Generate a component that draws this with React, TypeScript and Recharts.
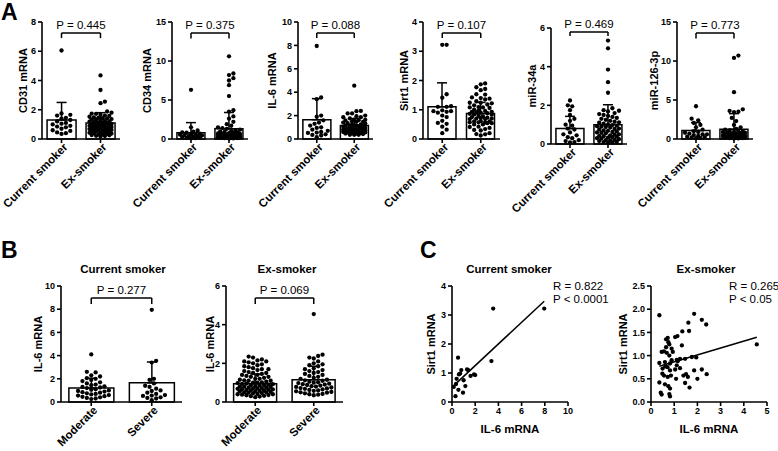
import React from 'react';
import { ComposedChart, Bar, ErrorBar, Scatter, XAxis, YAxis, ReferenceLine } from 'recharts';

const FONT = '"Liberation Sans", Arial, sans-serif';

const smokerGroups = ['Current smoker', 'Ex-smoker'];
const severityGroups = ['Moderate', 'Severe'];

// panel C pairs: [IL-6 mRNA, Sirt1 mRNA]; the IL-6 / Sirt1 columns in A come from the same patients
const currentPairs: [number, number][] = [
  [0.15, 0.52], [0.3, 0.2], [0.4, 0.8], [0.55, 0.42], [0.52, 1.53], [0.7, 0.98], [0.8, 1.1],
  [0.95, 0.32], [1.0, 0.75], [1.15, 0.55], [1.3, 1.12], [1.4, 1.1], [1.6, 0.9], [1.9, 0.95],
  [2.0, 0.93], [3.4, 1.41], [3.55, 3.22], [7.95, 3.22], [0.35, 0.62], [0.6, 0.95],
];
const exPairs: [number, number][] = [
  [0.36, 1.87], [1.86, 1.9], [1.61, 1.71], [2.19, 1.77], [2.38, 1.67], [1.64, 1.53], [1.35, 1.52],
  [1.14, 1.42], [1.04, 1.4], [0.72, 1.38], [0.65, 1.35], [0.75, 1.29], [0.79, 1.24], [1.33, 1.22],
  [0.46, 1.08], [0.56, 1.09], [0.68, 1.06], [0.94, 1.08], [0.79, 1.0], [1.11, 0.91], [1.25, 0.93],
  [1.47, 0.93], [1.76, 0.97], [1.95, 0.96], [0.36, 0.84], [0.6, 0.86], [0.82, 0.83], [0.89, 0.9],
  [1.15, 0.88], [0.5, 0.72], [0.62, 0.77], [0.71, 0.75], [0.82, 0.68], [1.04, 0.7], [1.86, 0.68],
  [2.19, 0.7], [0.49, 0.61], [0.56, 0.57], [0.72, 0.54], [0.86, 0.57], [1.08, 0.5], [1.4, 0.57],
  [1.51, 0.6], [1.59, 0.54], [2.0, 0.5], [2.4, 0.6], [0.36, 0.42], [0.6, 0.38], [0.75, 0.34],
  [0.82, 0.29], [1.47, 0.41], [1.66, 0.31], [0.42, 0.2], [0.46, 0.16], [0.79, 0.17], [0.82, 0.12],
  [4.56, 1.24], [0.89, 1.15], [0.65, 1.18], [1.11, 0.79], [1.25, 0.73],
];

const il6Current = currentPairs.map((p) => p[0]);
const il6Ex = exPairs.map((p) => p[0]);
const sirt1Current = currentPairs.map((p) => p[1]);
const sirt1Ex = exPairs.map((p) => p[1]);

const cd31Current = [6.05, 1.75, 1.65, 1.6, 1.45, 1.4, 1.3, 1.2, 1.1, 1.05, 1.0, 0.9, 0.85, 0.8, 0.7, 0.6, 0.55, 0.45, 0.4, 0.35];
const cd31Ex = [
  4.35, 3.35, 2.55, 2.45, 1.88, 1.8, 1.74, 1.72, 1.66, 1.6, 1.58, 1.52, 1.47, 1.45, 1.4, 1.36, 1.33,
  1.3, 1.27, 1.22, 1.2, 1.18, 1.12, 1.1, 1.07, 1.03, 1.0, 0.98, 0.95, 0.92, 0.9, 0.88, 0.85, 0.82,
  0.8, 0.77, 0.75, 0.72, 0.7, 0.68, 0.65, 0.62, 0.6, 0.58, 0.55, 0.52, 0.5, 0.48, 0.45, 0.42, 0.4,
  0.37, 0.35, 0.32, 0.3, 0.27, 0.25, 0.22, 0.2, 0.17, 1.15, 0.96, 0.78, 0.63, 1.42, 0.87,
];
const cd34Current = [6.3, 1.5, 1.1, 0.95, 0.85, 0.8, 0.7, 0.65, 0.6, 0.55, 0.5, 0.45, 0.4, 0.35, 0.3, 0.25, 0.2, 0.15, 0.1, 0.08];
const cd34Ex = [
  10.6, 8.4, 8.2, 7.8, 7.5, 6.9, 5.5, 3.7, 3.5, 2.9, 2.6, 2.2, 1.9, 1.7, 1.5, 1.4, 1.3, 1.2, 1.1, 1.0,
  0.95, 0.9, 0.85, 0.8, 0.75, 0.7, 0.65, 0.6, 0.55, 0.5, 0.48, 0.45, 0.42, 0.4, 0.38, 0.35, 0.32, 0.3,
  0.28, 0.25, 0.22, 0.2, 0.18, 0.15, 0.12, 0.1, 0.08, 0.05, 0.62, 0.44, 0.33, 0.27, 0.19, 0.14, 0.36,
  0.52, 0.71, 0.24,
];
const mir34aCurrent = [2.25, 2.0, 1.95, 1.75, 1.5, 1.3, 1.2, 1.0, 0.95, 0.8, 0.75, 0.6, 0.5, 0.45, 0.35, 0.3, 0.2, 0.15, 0.1, 0.08];
const mir34aEx = [
  5.35, 4.95, 3.85, 3.2, 2.65, 1.85, 1.75, 1.72, 1.68, 1.6, 1.55, 1.5, 1.45, 1.4, 1.35, 1.3, 1.25,
  1.2, 1.15, 1.1, 1.05, 1.0, 0.98, 0.95, 0.9, 0.88, 0.85, 0.8, 0.78, 0.75, 0.7, 0.68, 0.65, 0.6, 0.58,
  0.55, 0.5, 0.48, 0.45, 0.4, 0.38, 0.35, 0.3, 0.28, 0.25, 0.2, 0.18, 0.15, 0.12, 0.1, 0.08, 0.05,
  0.62, 0.42, 0.22, 0.92, 1.12, 0.33,
];
const mir126Current = [4.2, 2.6, 2.4, 2.05, 1.8, 1.5, 1.2, 1.0, 0.9, 0.8, 0.7, 0.6, 0.5, 0.4, 0.3, 0.25, 0.2, 0.15, 0.1, 0.6];
const mir126Ex = [
  10.7, 10.4, 6.0, 3.8, 3.6, 3.5, 3.45, 2.7, 2.3, 1.8, 1.5, 1.3, 1.2, 1.1, 1.0, 0.95, 0.9, 0.85, 0.8,
  0.75, 0.7, 0.65, 0.6, 0.55, 0.5, 0.48, 0.45, 0.42, 0.4, 0.38, 0.35, 0.32, 0.3, 0.28, 0.25, 0.22,
  0.2, 0.18, 0.15, 0.12, 0.1, 0.08, 0.05, 0.6, 0.44, 0.33, 0.27, 0.9, 0.72, 0.52,
];
const il6Moderate = [
  4.1, 2.6, 2.55, 2.3, 2.2, 2.05, 2.0, 1.9, 1.8, 1.7, 1.6, 1.5, 1.45, 1.35, 1.3, 1.25, 1.2, 1.1,
  1.05, 1.0, 0.95, 0.9, 0.85, 0.8, 0.75, 0.7, 0.65, 0.6, 0.55, 0.5, 0.45, 0.4, 0.35, 0.3, 0.25,
];
const il6ExModerate = [
  2.35, 2.3, 2.2, 2.15, 2.1, 2.1, 2.05, 2.0, 1.95, 1.9, 1.85, 1.8, 1.75, 1.7, 1.7, 1.65, 1.6, 1.55,
  1.5, 1.5, 1.45, 1.4, 1.4, 1.35, 1.3, 1.3, 1.25, 1.2, 1.2, 1.15, 1.1, 1.1, 1.05, 1.0, 1.0, 0.98,
  0.95, 0.92, 0.9, 0.88, 0.85, 0.82, 0.8, 0.8, 0.78, 0.75, 0.72, 0.7, 0.7, 0.68, 0.65, 0.62, 0.6,
  0.6, 0.58, 0.55, 0.52, 0.5, 0.5, 0.48, 0.45, 0.42, 0.4, 0.4, 0.38, 0.35, 0.32, 0.3, 0.28, 0.25,
  0.56, 0.66, 0.74, 0.86, 0.94, 1.02, 1.12, 0.46, 0.36, 0.64,
];
const il6ExSevere = [
  4.55, 2.45, 2.38, 2.3, 2.25, 2.1, 2.0, 1.95, 1.9, 1.85, 1.75, 1.7, 1.65, 1.6, 1.55, 1.5, 1.45,
  1.4, 1.35, 1.3, 1.25, 1.2, 1.15, 1.1, 1.05, 1.0, 0.95, 0.92, 0.9, 0.85, 0.82, 0.8, 0.75, 0.72,
  0.7, 0.68, 0.65, 0.6, 0.58, 0.55, 0.5, 0.48, 0.45, 0.42, 0.4, 0.38, 0.35, 0.62, 0.78, 0.88, 1.02,
  1.12, 0.52, 0.98,
];

// bar heights (mean) and upper SD
const cd31Mean = [1.3, 1.1];
const cd31Sd = [1.2, 0.7];
const cd34Mean = [0.8, 1.3];
const cd34Sd = [1.3, 2.1];
const il6Mean = [1.65, 1.15];
const il6Sd = [1.8, 0.6];
const sirt1Mean = [1.1, 0.87];
const sirt1Sd = [0.82, 0.38];
const mir34aMean = [0.8, 1.0];
const mir34aSd = [0.63, 1.03];
const mir126Mean = [1.1, 1.25];
const mir126Sd = [1.0, 2.0];
const currentSevMean = [1.2, 1.65];
const currentSevSd = [0.85, 1.8];
const exSevMean = [0.95, 1.15];
const exSevSd = [0.5, 0.7];

// simple column-scatter layout, like the one Prism uses
const swarm = (vals: number[], center: number, pyUnit: number, pxUnit: number, half: number) => {
  const d = 4.4;
  const placed: { x: number; y: number }[] = [];
  const out: { x: number; y: number }[] = [];
  [...vals].sort((a, b) => a - b).forEach((v) => {
    const py = v * pyUnit;
    let best = 0;
    let bestScore = -1;
    const steps = 2 * Math.ceil(half / (d / 2));
    for (let k = 0; k <= steps; k++) {
      const off = (k % 2 ? 1 : -1) * Math.ceil(k / 2) * (d / 2);
      if (Math.abs(off) > half) continue;
      let minD = Infinity;
      for (const q of placed) {
        const dist = Math.hypot(q.x - off, q.y - py);
        if (dist < minD) minD = dist;
      }
      if (minD >= d) {
        best = off;
        break;
      }
      if (minD > bestScore) {
        bestScore = minD;
        best = off;
      }
    }
    placed.push({ x: best, y: py });
    out.push({ x: center + best / pxUnit, y: v });
  });
  return out;
};

const fitLine = (pairs: [number, number][]) => {
  const n = pairs.length;
  const mx = pairs.reduce((s, p) => s + p[0], 0) / n;
  const my = pairs.reduce((s, p) => s + p[1], 0) / n;
  let sxy = 0;
  let sxx = 0;
  pairs.forEach(([x, y]) => {
    sxy += (x - mx) * (y - my);
    sxx += (x - mx) * (x - mx);
  });
  const slope = sxy / sxx;
  const b = my - slope * mx;
  const xs = pairs.map((p) => p[0]);
  const x1 = Math.min(...xs);
  const x2 = Math.max(...xs);
  return [{ x: x1, y: b + slope * x1 }, { x: x2, y: b + slope * x2 }];
};

const Dot = (props: any) => <circle cx={props.cx} cy={props.cy} r={2.15} fill="#000" />;

const CatTick = (props: any) => {
  const { x, y, payload } = props;
  return (
    <text
      transform={`translate(${x + 4},${y}) rotate(-45)`}
      textAnchor="end"
      dy="0.35em"
      fontSize={11.5}
      fontWeight="bold"
      fill="#000"
    >
      {payload.value}
    </text>
  );
};

const axisTick = { fill: '#000', fontSize: 9, fontWeight: 'bold' };
const PAD = 45; // room on the left of each svg for the slanted category labels

interface BarPanelProps {
  left: number;
  top: number;
  height: number;
  plotLeft: number;
  plotRight: number;
  plotTop: number;
  plotBottom: number;
  labelX: number;
  yLabel: string;
  yMax: number;
  yTicks: number[];
  cats: string[];
  means: number[];
  sds: number[];
  points: number[][];
  pText: string;
  bracket: [number, number];
  spread: number;
}

const BarPanel = (p: BarPanelProps) => {
  const width = p.plotRight - p.left + PAD + 4;
  const pyUnit = (p.plotBottom - p.plotTop) / p.yMax;
  const pxUnit = (p.plotRight - p.plotLeft) / 2;
  const rows = p.cats.map((name, i) => ({ name, mean: p.means[i], err: [0, p.sds[i]] }));
  const dots = p.points.flatMap((vals, i) => swarm(vals, i + 0.5, pyUnit, pxUnit, p.spread));
  const [hi, lo] = p.bracket;
  return (
    <div style={{ position: 'absolute', left: p.left - PAD, top: p.top }}>
      <ComposedChart
        width={width}
        height={p.height}
        data={rows}
        margin={{ top: p.plotTop - p.top, right: 4, bottom: 0, left: PAD }}
        barCategoryGap="13%"
      >
        <XAxis
          xAxisId="cat"
          dataKey="name"
          height={p.top + p.height - p.plotBottom}
          interval={0}
          tick={<CatTick />}
          tickSize={4}
          stroke="#000"
          strokeWidth={1.6}
        />
        <XAxis xAxisId="num" type="number" dataKey="x" domain={[0, 2]} hide />
        <YAxis
          width={p.plotLeft - p.left}
          domain={[0, p.yMax]}
          ticks={p.yTicks}
          interval={0}
          tickSize={4}
          stroke="#000"
          strokeWidth={1.6}
          tick={axisTick}
          label={{
            value: p.yLabel,
            angle: -90,
            position: 'insideLeft',
            offset: p.labelX - p.left,
            style: { textAnchor: 'middle' },
            fill: '#000',
            fontSize: 11,
            fontWeight: 'bold',
          }}
        />
        <Bar xAxisId="cat" dataKey="mean" fill="#fff" stroke="#000" strokeWidth={1.5} isAnimationActive={false}>
          <ErrorBar dataKey="err" width={5} stroke="#000" strokeWidth={1.5} direction="y" />
        </Bar>
        <Scatter xAxisId="num" data={dots} dataKey="y" shape={Dot} isAnimationActive={false} />
        <ReferenceLine
          xAxisId="num"
          segment={[{ x: 0.5, y: hi }, { x: 1.5, y: hi }]}
          stroke="#000"
          strokeWidth={1.5}
          label={{ value: p.pText, position: 'top', offset: 4, fill: '#000', fontSize: 11.5 }}
        />
        <ReferenceLine xAxisId="num" segment={[{ x: 0.5, y: hi }, { x: 0.5, y: lo }]} stroke="#000" strokeWidth={1.5} />
        <ReferenceLine xAxisId="num" segment={[{ x: 1.5, y: hi }, { x: 1.5, y: lo }]} stroke="#000" strokeWidth={1.5} />
      </ComposedChart>
    </div>
  );
};

interface ScatterPanelProps {
  left: number;
  top: number;
  height: number;
  plotLeft: number;
  plotRight: number;
  plotTop: number;
  plotBottom: number;
  labelX: number;
  xMax: number;
  xTicks: number[];
  yMax: number;
  yTicks: number[];
  yFmt?: (v: number) => string;
  pairs: [number, number][];
}

const ScatterPanel = (p: ScatterPanelProps) => {
  const width = p.plotRight - p.left + 6;
  const pts = p.pairs.map(([x, y]) => ({ x, y }));
  return (
    <div style={{ position: 'absolute', left: p.left, top: p.top }}>
      <ComposedChart
        width={width}
        height={p.height}
        margin={{ top: p.plotTop - p.top, right: 6, bottom: 0, left: 0 }}
      >
        <XAxis
          type="number"
          dataKey="x"
          domain={[0, p.xMax]}
          ticks={p.xTicks}
          interval={0}
          height={p.top + p.height - p.plotBottom}
          tickSize={4}
          stroke="#000"
          strokeWidth={1.6}
          tick={axisTick}
          label={{ value: 'IL-6 mRNA', position: 'insideBottom', offset: 7, fill: '#000', fontSize: 11.5, fontWeight: 'bold' }}
        />
        <YAxis
          width={p.plotLeft - p.left}
          domain={[0, p.yMax]}
          ticks={p.yTicks}
          interval={0}
          tickSize={4}
          stroke="#000"
          strokeWidth={1.6}
          tick={axisTick}
          tickFormatter={p.yFmt}
          label={{
            value: 'Sirt1 mRNA',
            angle: -90,
            position: 'insideLeft',
            offset: p.labelX - p.left,
            style: { textAnchor: 'middle' },
            fill: '#000',
            fontSize: 11,
            fontWeight: 'bold',
          }}
        />
        <Scatter data={pts} dataKey="y" shape={Dot} isAnimationActive={false} />
        <ReferenceLine segment={fitLine(p.pairs)} stroke="#000" strokeWidth={1.5} />
      </ComposedChart>
    </div>
  );
};

const rowA = { top: 0, height: 215, plotTop: 22, plotBottom: 139, spread: 12 };
const rowB = { top: 260, height: 191, plotTop: 286, plotBottom: 402, spread: 19 };

const App = () => (
  <div
    style={{
      position: 'absolute',
      left: 0,
      top: 0,
      width: 778,
      height: 451,
      background: '#fff',
      fontFamily: FONT,
      overflow: 'hidden',
    }}
  >
    <BarPanel {...rowA} left={2} plotLeft={42} plotRight={120} labelX={23} yLabel="CD31 mRNA"
      yMax={8} yTicks={[0, 2, 4, 6, 8]} cats={smokerGroups} means={cd31Mean} sds={cd31Sd}
      points={[cd31Current, cd31Ex]} pText="P = 0.445" bracket={[7.25, 6.9]} />
    <BarPanel {...rowA} left={132} plotLeft={172} plotRight={248} labelX={147} yLabel="CD34 mRNA"
      yMax={15} yTicks={[0, 5, 10, 15]} cats={smokerGroups} means={cd34Mean} sds={cd34Sd}
      points={[cd34Current, cd34Ex]} pText="P = 0.375" bracket={[13.6, 12.9]} />
    <BarPanel {...rowA} left={258} plotLeft={298} plotRight={373} labelX={272} yLabel="IL-6 mRNA"
      yMax={10} yTicks={[0, 2, 4, 6, 8, 10]} cats={smokerGroups} means={il6Mean} sds={il6Sd}
      points={[il6Current, il6Ex]} pText="P = 0.088" bracket={[9.06, 8.63]} />
    <BarPanel {...rowA} left={383} plotLeft={423} plotRight={500} labelX={404} yLabel="Sirt1 mRNA"
      yMax={4} yTicks={[0, 1, 2, 3, 4]} cats={smokerGroups} means={sirt1Mean} sds={sirt1Sd}
      points={[sirt1Current, sirt1Ex]} pText="P = 0.107" bracket={[3.62, 3.45]} />
    <BarPanel {...rowA} plotTop={28} plotBottom={144} left={511} plotLeft={551} plotRight={627} labelX={532}
      yLabel="miR-34a" yMax={6} yTicks={[0, 2, 4, 6]} cats={smokerGroups} means={mir34aMean} sds={mir34aSd}
      points={[mir34aCurrent, mir34aEx]} pText="P = 0.469" bracket={[5.79, 5.59]} />
    <BarPanel {...rowA} left={637} plotLeft={677} plotRight={753} labelX={654} yLabel="miR-126-3p"
      yMax={15} yTicks={[0, 5, 10, 15]} cats={smokerGroups} means={mir126Mean} sds={mir126Sd}
      points={[mir126Current, mir126Ex]} pText="P = 0.773" bracket={[13.6, 12.9]} />

    <BarPanel {...rowB} left={21} plotLeft={61} plotRight={182} labelX={38} yLabel="IL-6 mRNA"
      yMax={10} yTicks={[0, 2, 4, 6, 8, 10]} cats={severityGroups} means={currentSevMean} sds={currentSevSd}
      points={[il6Moderate, il6Current]} pText="P = 0.277" bracket={[8.97, 8.45]} />
    <BarPanel {...rowB} left={186} plotLeft={226} plotRight={343} labelX={210} yLabel="IL-6 mRNA"
      yMax={6} yTicks={[0, 2, 4, 6]} cats={severityGroups} means={exSevMean} sds={exSevSd}
      points={[il6ExModerate, il6ExSevere]} pText="P = 0.069" bracket={[5.38, 5.07]} />

    <ScatterPanel top={260} height={180} plotTop={286} plotBottom={402} left={412} plotLeft={452}
      plotRight={568} labelX={431} xMax={10} xTicks={[0, 2, 4, 6, 8, 10]} yMax={4} yTicks={[0, 1, 2, 3, 4]}
      pairs={currentPairs} />
    <ScatterPanel top={260} height={180} plotTop={286} plotBottom={402} left={611} plotLeft={651}
      plotRight={767} labelX={623} xMax={5} xTicks={[0, 1, 2, 3, 4, 5]} yMax={2.5}
      yTicks={[0, 0.5, 1, 1.5, 2, 2.5]} yFmt={(v) => v.toFixed(1)} pairs={exPairs} />

    <svg width={778} height={451} style={{ position: 'absolute', left: 0, top: 0, pointerEvents: 'none' }}>
      <g fontFamily={FONT} fill="#000">
        <text x={1} y={20} fontSize={23} fontWeight="bold">A</text>
        <text x={1} y={258} fontSize={23} fontWeight="bold">B</text>
        <text x={420} y={258} fontSize={23} fontWeight="bold">C</text>
        <g fontSize={11.5} fontWeight="bold" textAnchor="middle">
          <text x={123} y={273}>Current smoker</text>
          <text x={287} y={273}>Ex-smoker</text>
          <text x={509} y={273}>Current smoker</text>
          <text x={706} y={273}>Ex-smoker</text>
        </g>
        <g fontSize={11.5}>
          <text x={553} y={290}>R = 0.822</text>
          <text x={553} y={302.5}>P &lt; 0.0001</text>
          <text x={729} y={290}>R = 0.265</text>
          <text x={729} y={302.5}>P &lt; 0.05</text>
        </g>
      </g>
    </svg>
  </div>
);

export default App;
